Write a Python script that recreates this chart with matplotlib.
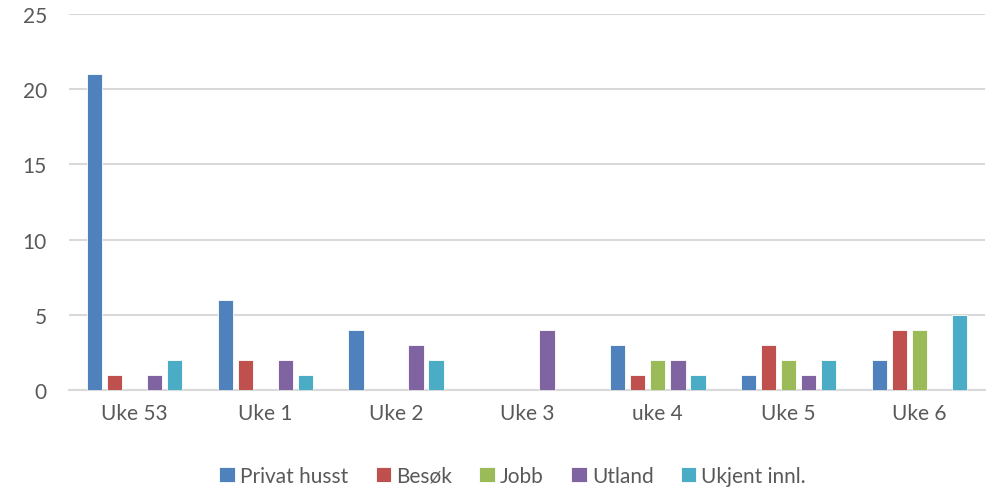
import matplotlib
matplotlib.use("Agg")
import matplotlib.pyplot as plt
import numpy as np

plt.rcParams['font.family'] = ['Lato', 'DejaVu Sans']

weeks = ["Uke 53", "Uke 1", "Uke 2", "Uke 3", "uke 4", "Uke 5", "Uke 6"]
series_names = ["Privat husst", "Besøk", "Jobb", "Utland", "Ukjent innl."]
privat = [21, 6, 4, 0, 3, 1, 2]
besok = [1, 2, 0, 0, 1, 3, 4]
jobb = [0, 0, 0, 0, 2, 2, 4]
utland = [1, 2, 3, 4, 2, 1, 0]
ukjent = [2, 1, 2, 0, 1, 2, 5]
colors = ["#4F81BD", "#C0504D", "#9BBB59", "#8064A2", "#4BACC6"]

fig = plt.figure(figsize=(9.89, 4.89), dpi=100)
ax = fig.add_axes([0.0698, 0.2004, 0.926, 0.7686])

x = np.arange(len(weeks))
step = 0.153
width = 0.118
for i, (vals, col, name) in enumerate(zip([privat, besok, jobb, utland, ukjent], colors, series_names)):
    ax.bar(x + (i - 2) * step, vals, width, color=col, edgecolor="white",
           linewidth=0.6, label=name, zorder=3)

ax.set_xlim(-0.5, len(weeks) - 0.5)
ax.set_ylim(0, 25)
ax.set_yticks(range(0, 26, 5))
ax.set_xticks(x)
ax.set_xticklabels(weeks)
ax.yaxis.grid(True, color="#D9D9D9", linewidth=1.5, zorder=0)
for s in ["top", "right", "left"]:
    ax.spines[s].set_visible(False)
ax.spines["bottom"].set_color("#D9D9D9")
ax.spines["bottom"].set_linewidth(1.5)
ax.tick_params(axis="both", length=0, labelsize=15, labelcolor="#595959")
ax.tick_params(axis="x", pad=9)
ax.tick_params(axis="y", pad=16)

ax.legend(loc="lower center", bbox_to_anchor=(0.4845, -0.305), ncol=5, frameon=False,
          fontsize=15, labelcolor="#595959", handlelength=0.75, handleheight=0.75,
          handletextpad=0.25, columnspacing=1.3)

fig.savefig("out.png", dpi=100)
